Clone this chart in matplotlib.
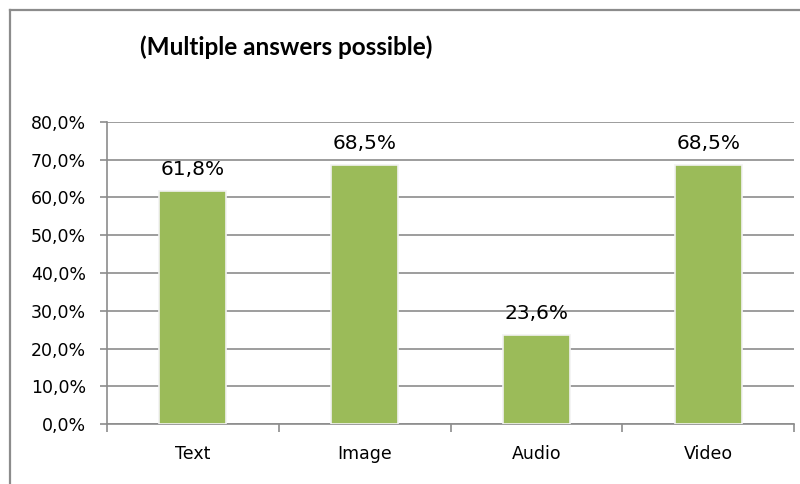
import matplotlib.pyplot as plt
from matplotlib.lines import Line2D
from matplotlib.ticker import FuncFormatter

categories = ["Text", "Image", "Audio", "Video"]
values = [61.8, 68.5, 23.6, 68.5]
title = "(Multiple answers possible)"

plt.rcParams['font.family'] = ['DejaVu Sans']


def pct(v):
    return ("%.1f%%" % v).replace(".", ",")


fig = plt.figure(figsize=(8, 4.84), dpi=100)

# outer chart frame (only left and top visible)
fx, fy = 9.5 / 800, 1 - 9.5 / 484
fig.add_artist(Line2D([fx, fx], [0, fy], transform=fig.transFigure, color="#8c8c8c", linewidth=1.6))
fig.add_artist(Line2D([fx, 1], [fy, fy], transform=fig.transFigure, color="#8c8c8c", linewidth=1.6))

ax = fig.add_axes([107 / 800, (484 - 424) / 484, (794 - 107) / 800, (424 - 122) / 484])

x = range(len(categories))
bars = ax.bar(x, values, width=0.39, color="#9bbb59", edgecolor="#f2f2f2", linewidth=1.2, zorder=3)
for b, v in zip(bars, values):
    ax.annotate(pct(v), (b.get_x() + b.get_width() / 2, v), xytext=(0, 11.5),
                textcoords="offset points", ha="center", va="baseline", fontsize=14.5)

ax.set_xlim(-0.5, len(categories) - 0.5)
ax.set_ylim(0, 80)
ax.set_yticks(range(0, 81, 10))
ax.yaxis.set_major_formatter(FuncFormatter(lambda v, p: pct(v)))
ax.set_xticks(list(x))
ax.set_xticklabels(categories)
ax.set_xticks([i - 0.5 for i in range(len(categories) + 1)], minor=True)
ax.tick_params(axis="x", which="major", length=0, pad=15, labelsize=12.5)
ax.tick_params(axis="x", which="minor", length=6, color="#8c8c8c", width=1.2)
ax.tick_params(axis="y", length=5, color="#8c8c8c", width=1.2, labelsize=12.5, pad=10)
ax.grid(axis="y", color="#8c8c8c", linewidth=1.2, zorder=0)
for s in ["top", "right"]:
    ax.spines[s].set_visible(False)
for s in ["left", "bottom"]:
    ax.spines[s].set_color("#8c8c8c")
    ax.spines[s].set_linewidth(1.2)

fig.text(140 / 800, 1 - 47 / 484, title, fontsize=17.5, fontweight="bold", va="center", ha="left",
         family=["Lato", "DejaVu Sans"])

fig.savefig("out.png", dpi=100)
